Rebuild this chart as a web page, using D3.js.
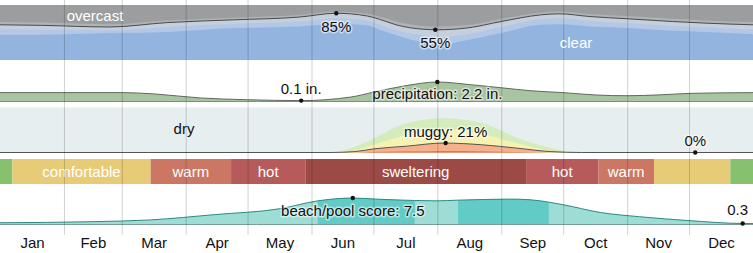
<!DOCTYPE html>
<html>
<head>
<meta charset="utf-8">
<script src="https://cdn.jsdelivr.net/npm/d3@7"></script>
<style>
  body { margin: 0; background: #fff; }
  svg { display: block; font-family: "Liberation Sans", Arial, Helvetica, sans-serif; }
  .halo { paint-order: stroke; stroke: rgba(255,255,255,0.55); stroke-width: 3px; stroke-linejoin: round; }
</style>
</head>
<body>
<svg id="chart" width="753" height="253"></svg>
<script>
// Months
const monthNames = ['Jan', 'Feb', 'Mar', 'Apr', 'May', 'Jun', 'Jul', 'Aug', 'Sep', 'Oct', 'Nov', 'Dec'];
const monthStarts = [0, 31, 59, 90, 120, 151, 181, 212, 243, 273, 304, 334, 365];

// Cloud cover (% of time, cumulative from clear upward)
const cloudDays = [0, 20, 53, 81, 113, 145, 163, 178, 184, 192, 205, 212, 226, 243, 262, 271, 286, 304, 326, 342, 365];
const clearPct = [46, 46, 49, 51, 58, 61, 66, 63, 55, 45, 32, 27, 36, 49, 64, 65, 61, 58, 53, 51, 47];
const mostlyClearPct = [56, 55, 54, 60, 66, 70, 76, 72, 64, 54, 45, 42, 47, 60, 74, 76, 71, 67, 62, 59, 56];
const partlyCloudyPct = [64, 63, 60, 68, 73, 78, 85, 80, 74, 64, 56, 55, 58, 70, 82, 84, 79, 75, 70, 67, 64];
const mostlyCloudyPct = [69, 68, 65, 72, 77, 82, 88, 84, 79, 70, 62, 61, 63, 75, 86, 88, 83, 80, 75, 72, 69];

// Precipitation (inches)
const precipDays = [0, 30, 60, 75, 97, 120, 146, 170, 181, 197, 212, 228, 243, 258, 273, 290, 304, 320, 335, 365];
const precipIn = [1.0, 1.0, 1.0, 0.85, 0.4, 0.2, 0.1, 0.5, 1.05, 1.8, 2.2, 1.9, 1.55, 1.2, 1.0, 0.72, 0.65, 0.75, 0.92, 1.0];

// Humidity comfort (% of time, cumulative from worst upward)
const humidDays = [0, 160, 172, 181, 197, 215, 234, 250, 267, 282, 365];
const oppressivePct = [0, 0, 0, 1, 2, 3, 2.5, 1, 0, 0, 0];
const muggyPct = [0, 0, 2, 8, 14, 21, 17, 10, 2, 0, 0];
const humidPct = [0, 0, 5, 17, 39, 52, 41, 21, 4, 0, 0];
const comfortablePct = [0, 0, 12, 31, 65, 76, 65, 34, 10, 0, 0];

// Temperature bands
const tempNames = ['', 'comfortable', 'warm', 'hot', 'sweltering', 'hot', 'warm', '', ''];
const tempKinds = ['cool', 'comfortable', 'warm', 'hot', 'sweltering', 'hot', 'warm', 'comfortable', 'cool'];
const tempStarts = [0, 6, 73, 112, 148, 255, 290, 317, 354];
const tempEnds = [6, 73, 112, 148, 255, 290, 317, 354, 365];

// Beach/pool score
const beachDays = [0, 45, 73, 104, 136, 154, 171, 182, 201, 212, 222, 236, 247, 257, 273, 291, 310, 334, 360, 365];
const beachScore = [0.5, 0.8, 1.3, 2.8, 4.5, 6.7, 7.5, 7.2, 6.8, 6.7, 6.9, 7.1, 7.2, 7.0, 5.6, 3.4, 2.2, 1.1, 0.3, 0.3];
const bestStarts = [154, 222];
const bestEnds = [201, 266];

const W = 753;
const svg = d3.select('#chart');
const x = d3.scaleLinear().domain([0, 365]).range([0, W]);

const cloudY = d3.scaleLinear().domain([0, 100]).range([60, 5]);
const precipY = d3.scaleLinear().domain([0, 2.2]).range([101.5, 82]);
const humidY = d3.scaleLinear().domain([0, 100]).range([152.5, 107.5]);
const beachY = d3.scaleLinear().domain([0, 10]).range([224.5, 189.2]);

function areaOf(days, vals, y) {
    return d3.area().x((d, i) => x(days[i])).y0(y(0)).y1((d, i) => y(vals[i])).curve(d3.curveMonotoneX)(vals);
}
function lineOf(days, vals, y) {
    return d3.line().x((d, i) => x(days[i])).y((d, i) => y(vals[i])).curve(d3.curveMonotoneX)(vals);
}
function dot(cx, cy) {
    svg.append('circle').attr('cx', cx).attr('cy', cy).attr('r', 2.2).attr('fill', '#111');
}
function label(txt, cx, cy, opts = {}) {
    return svg.append('text').attr('x', cx).attr('y', cy)
        .attr('text-anchor', opts.anchor || 'middle')
        .attr('font-size', 15)
        .attr('fill', opts.fill || '#111')
        .attr('class', opts.halo === false ? null : 'halo')
        .text(txt);
}

// ---- Clouds
svg.append('rect').attr('x', 0).attr('y', cloudY(100)).attr('width', W).attr('height', cloudY(0) - cloudY(100)).attr('fill', '#9c9d9f');
svg.append('path').attr('d', areaOf(cloudDays, mostlyCloudyPct, cloudY)).attr('fill', '#afb2b6');
svg.append('path').attr('d', areaOf(cloudDays, partlyCloudyPct, cloudY)).attr('fill', '#c6cfdc');
svg.append('path').attr('d', areaOf(cloudDays, mostlyClearPct, cloudY)).attr('fill', '#b3c8e6');
svg.append('path').attr('d', areaOf(cloudDays, clearPct, cloudY)).attr('fill', '#93b4df');
svg.append('path').attr('d', lineOf(cloudDays, partlyCloudyPct, cloudY)).attr('fill', 'none').attr('stroke', '#4a4a4a').attr('stroke-width', 1);

// ---- Precipitation
svg.append('path').attr('d', areaOf(precipDays, precipIn, precipY)).attr('fill', '#a8c4a0');
svg.append('path').attr('d', lineOf(precipDays, precipIn, precipY)).attr('fill', 'none').attr('stroke', '#5e6b5c').attr('stroke-width', 1);
svg.append('line').attr('x1', 0).attr('x2', W).attr('y1', precipY(0)).attr('y2', precipY(0)).attr('stroke', '#888');

// ---- Humidity
svg.append('rect').attr('x', 0).attr('y', humidY(100)).attr('width', W).attr('height', humidY(0) - humidY(100)).attr('fill', '#e7eef0');
svg.append('path').attr('d', areaOf(humidDays, comfortablePct, humidY)).attr('fill', '#d4ecbb');
svg.append('path').attr('d', areaOf(humidDays, humidPct, humidY)).attr('fill', '#f7f2b4');
svg.append('path').attr('d', areaOf(humidDays, muggyPct, humidY)).attr('fill', '#f5b08c');
svg.append('path').attr('d', areaOf(humidDays, oppressivePct, humidY)).attr('fill', '#d9624a');
svg.append('path').attr('d', lineOf(humidDays, muggyPct, humidY)).attr('fill', 'none').attr('stroke', '#555').attr('stroke-width', 1);

// ---- Temperature bands
const tempColor = { cool: '#88c16e', comfortable: '#e8cb77', warm: '#cb7764', hot: '#b65a5b', sweltering: '#9c4a45' };
const bands = svg.append('g');
tempKinds.forEach((k, i) => {
    bands.append('rect').attr('x', x(tempStarts[i])).attr('y', 159)
        .attr('width', x(tempEnds[i]) - x(tempStarts[i])).attr('height', 25)
        .attr('fill', tempColor[k]);
    if (tempNames[i]) {
        bands.append('text').attr('x', x((tempStarts[i] + tempEnds[i]) / 2)).attr('y', 177)
            .attr('text-anchor', 'middle').attr('font-size', 15).attr('fill', '#fff').text(tempNames[i]);
    }
});

// ---- Beach/pool score
svg.append('defs').append('clipPath').attr('id', 'best').selectAll('rect').data(bestStarts).enter().append('rect')
    .attr('x', (d, i) => x(bestStarts[i])).attr('y', 180)
    .attr('width', (d, i) => x(bestEnds[i]) - x(bestStarts[i])).attr('height', 50);
svg.append('path').attr('d', areaOf(beachDays, beachScore, beachY)).attr('fill', '#9edcd6');
svg.append('path').attr('d', areaOf(beachDays, beachScore, beachY)).attr('fill', '#62cbc5').attr('clip-path', 'url(#best)');
svg.append('path').attr('d', lineOf(beachDays, beachScore, beachY)).attr('fill', 'none').attr('stroke', '#2e8a84').attr('stroke-width', 1);
svg.append('line').attr('x1', 0).attr('x2', W).attr('y1', beachY(0)).attr('y2', beachY(0)).attr('stroke', '#7a9a98');

// ---- Month gridlines and labels
svg.append('g').attr('transform', 'translate(0,235)')
    .call(d3.axisBottom(x).tickValues(monthStarts.slice(1, 12)).tickSize(-235).tickFormat(''))
    .call(g => g.select('.domain').remove())
    .call(g => g.selectAll('line').attr('stroke', 'rgba(0,0,0,0.18)'));

const monthMids = monthStarts.slice(0, 12).map((s, i) => (s + monthStarts[i + 1]) / 2);
svg.append('g').attr('transform', 'translate(0,235)')
    .call(d3.axisBottom(x).tickValues(monthMids).tickSize(0).tickFormat((d, i) => monthNames[i]))
    .call(g => g.select('.domain').remove())
    .call(g => g.selectAll('text').attr('y', 12.5).attr('dy', null)
        .attr('font-size', 15).attr('fill', '#111').attr('font-family', null));

// ---- Labels
label('overcast', 95, 21, { fill: '#fff', halo: false });
label('clear', 576, 48, { fill: '#fff', halo: false });
dot(x(163), cloudY(85)); label('85%', x(163), 32);
dot(x(211), cloudY(55)); label('55%', x(211), 48);

dot(x(146), precipY(0.1)); label('0.1 in.', x(146), 94);
dot(x(212), precipY(2.2)); label('precipitation: 2.2 in.', x(212), 98.5);

label('dry', 184, 134, { halo: false });
dot(x(216), humidY(21)); label('muggy: 21%', x(216), 137);
dot(x(337), humidY(0)); label('0%', x(337), 146);

dot(x(171), beachY(7.5)); label('beach/pool score: 7.5', x(171), 216);
dot(x(360), beachY(0.3)); label('0.3', 748, 215, { anchor: 'end' });
</script>
</body>
</html>
